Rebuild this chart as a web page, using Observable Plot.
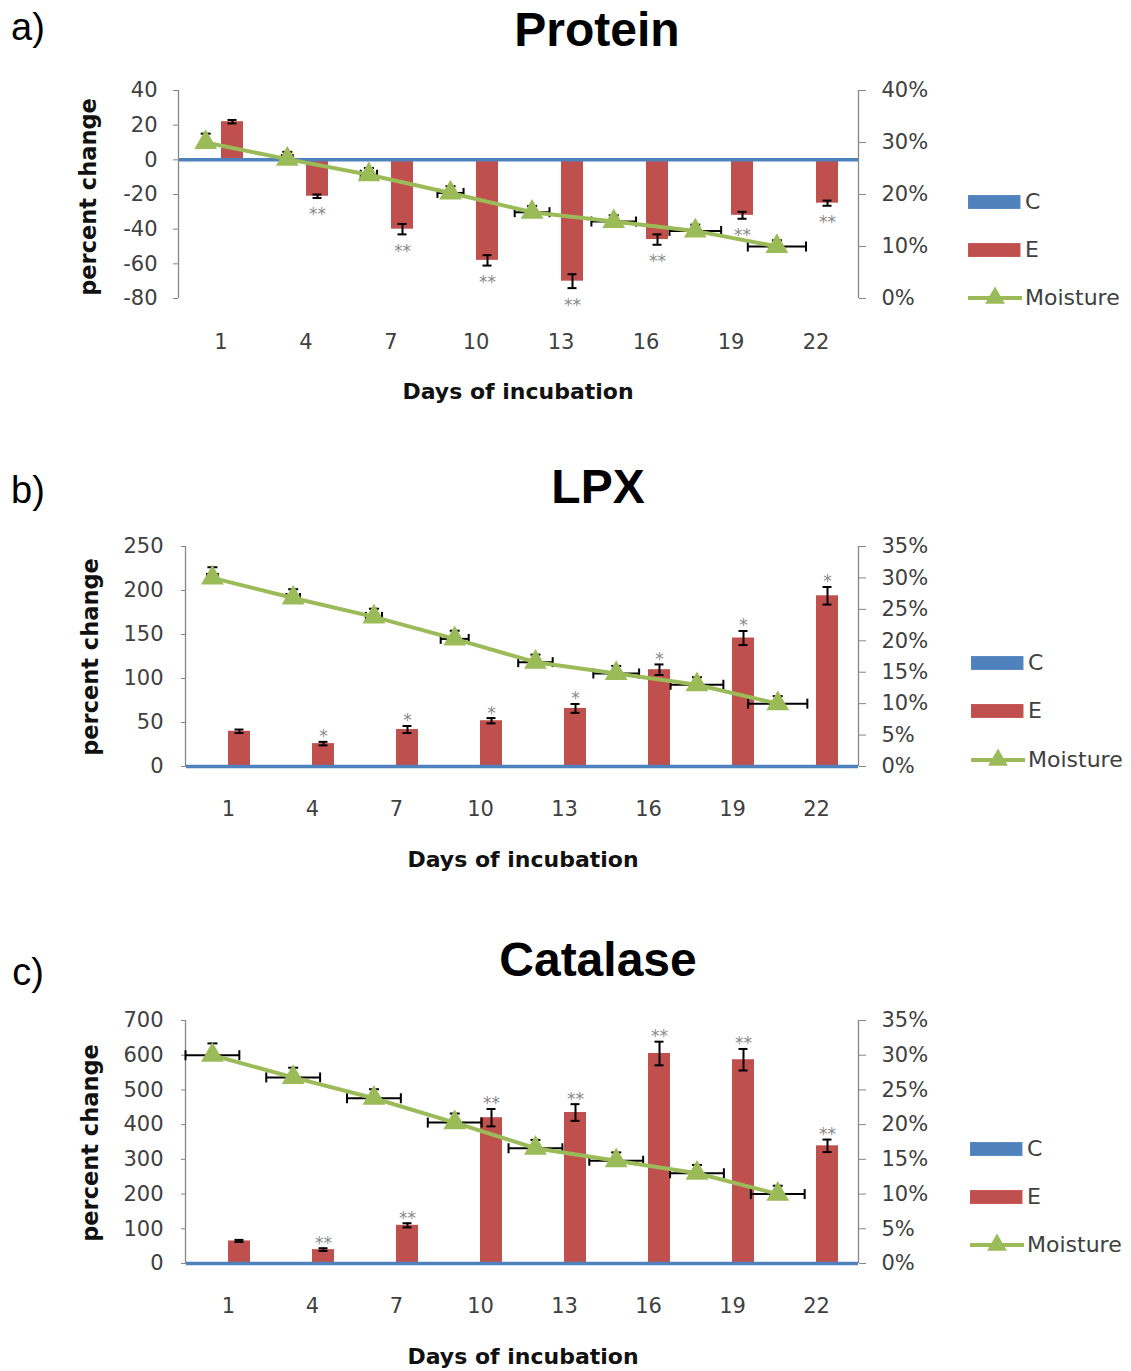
<!DOCTYPE html>
<html><head><meta charset="utf-8">
<script src="https://cdn.jsdelivr.net/npm/d3@7"></script>
<script src="https://cdn.jsdelivr.net/npm/@observablehq/plot@0.6"></script>
<style>
html,body{margin:0;padding:0;background:#fff;overflow:hidden;}
#page{position:relative;width:1131px;height:1371px;background:#fff;}
.abs{position:absolute;white-space:nowrap;line-height:1;}
.panel{position:absolute;left:0;width:1131px;}
.panel svg{position:absolute;left:0;top:0;}
</style></head><body><div id="page"></div>
<script>
// ---------- data ----------
const days = ["1","4","7","10","13","16","19","22"];
const dayNumbers = [1,4,7,10,13,16,19,22];
const seriesNames = ["C","E"];

const proteinC = [0,0,0,0,0,0,0,0];
const proteinE = [22,-21,-40,-58,-70,-46,-32,-25];
const proteinErr = [1,1,3,3,4,3,2,1.5];
const proteinSig = ["","**","**","**","**","**","**","**"];
const proteinTicks = [-80,-60,-40,-20,0,20,40];

const lpxC = [0,0,0,0,0,0,0,0];
const lpxE = [40,26,42,52,66,110,146,194];
const lpxErr = [2,2,4,3,5,6,8,10];
const lpxSig = ["","*","*","*","*","*","*","*"];
const lpxTicks = [0,50,100,150,200,250];

const catalaseC = [0,0,0,0,0,0,0,0];
const catalaseE = [65,40,110,420,435,605,587,339];
const catalaseErr = [3,4,6,25,24,34,31,18];
const catalaseSig = ["","**","**","**","**","**","**","**"];
const catalaseTicks = [0,100,200,300,400,500,600,700];

const moisture = [0.30,0.268,0.238,0.203,0.166,0.148,0.13,0.10];
const moistureErrY = [0.017,0.014,0.013,0.013,0.012,0.012,0.012,0.012];
const proteinMoistErrX = [0.12,0.2,0.3,0.48,0.64,0.82,0.95,1.07];
const lpxMoistErrX = [0.2,0.25,0.3,0.52,0.64,0.85,0.98,1.1];
const catalaseMoistErrX = [1,1,1,1,1,1,1,1];
const pctTicksProtein = [0,0.1,0.2,0.3,0.4];
const pctTicksOther = [0,0.05,0.1,0.15,0.2,0.25,0.3,0.35];

const legendLabels = ["C","E","Moisture"];

// ---------- style ----------
const W = 1131;
const BLUE = "#4F81BD", RED = "#C0504D", GREEN = "#9BBB59";
const GRAY = "#868686", TICK = "#404040", STAR = "#8a8a8a";
const FONT = "DejaVu Sans";

const panels = [
  {letter:"a)", title:"Protein", T:0, H:420, mt:90, mb:122, ml:178, mr:273, padL:16, padX:36,
   C:proteinC, E:proteinE, err:proteinErr, sig:proteinSig, ticks:proteinTicks, yDomain:[-80,40],
   pctTicks:pctTicksProtein, pctMax:0.4, errX:proteinMoistErrX,
   letterPos:[28,27], titlePos:[597,30], yLabPos:[88,197], xLabPos:[518,392],
   legX:968, legY:[202,250,298]},
  {letter:"b)", title:"LPX", T:460, H:420, mt:86, mb:114, ml:185, mr:273, padL:18, padX:35,
   C:lpxC, E:lpxE, err:lpxErr, sig:lpxSig, ticks:lpxTicks, yDomain:[0,250],
   pctTicks:pctTicksOther, pctMax:0.35, errX:lpxMoistErrX,
   letterPos:[28,490], titlePos:[598,487], yLabPos:[90,657], xLabPos:[523,860],
   legX:971, legY:[663,711,760]},
  {letter:"c)", title:"Catalase", T:940, H:431, mt:80, mb:108, ml:185, mr:273, padL:18, padX:35,
   C:catalaseC, E:catalaseE, err:catalaseErr, sig:catalaseSig, ticks:catalaseTicks, yDomain:[0,700],
   pctTicks:pctTicksOther, pctMax:0.35, errX:catalaseMoistErrX,
   letterPos:[28,972], titlePos:[598,960], yLabPos:[90,1143], xLabPos:[523,1357],
   legX:970, legY:[1149,1197,1245]}
];

const vcap = {draw(ctx, size){ const h = Math.sqrt(size/Math.PI); ctx.moveTo(0,-h); ctx.lineTo(0,h); }};
const hcap = {draw(ctx, size){ const h = Math.sqrt(size/Math.PI); ctx.moveTo(-h,0); ctx.lineTo(h,0); }};

const page = document.getElementById("page");

function addText(txt, x, y, css, rotate){
  const d = document.createElement("div");
  d.className = "abs";
  d.textContent = txt;
  d.style.left = x + "px";
  d.style.top = y + "px";
  d.style.transform = "translate(-50%,-50%)" + (rotate ? " rotate(-90deg)" : "");
  Object.assign(d.style, css);
  page.appendChild(d);
  return d;
}

function barPlot(p){
  const rows = days.flatMap((d,i)=>[
    {day:d, series:"C", value:p.C[i], err:0, sig:""},
    {day:d, series:"E", value:p.E[i], err:p.err[i], sig:p.sig[i]}
  ]);
  const eRows = rows.filter(r=>r.series==="E");
  const pos = eRows.filter(r=>r.value>=0 && r.sig);
  const neg = eRows.filter(r=>r.value<0 && r.sig);
  return Plot.plot({
    width: W, height: p.H,
    marginTop: p.mt, marginBottom: p.mb, marginLeft: p.ml, marginRight: p.mr,
    style: {background:"transparent", fontFamily: FONT, fontSize:"21px", overflow:"visible"},
    fx: {domain: days, padding: 0, label: null},
    x: {domain: seriesNames, paddingInner: 0, paddingOuter: 0.85, axis: null},
    y: {domain: p.yDomain},
    color: {domain: seriesNames, range: [BLUE, RED]},
    marks: [
      Plot.barY(rows, {fx:"day", x:"series", y:"value", fill:"series"}),
      Plot.ruleY([0], {stroke: BLUE, strokeWidth: 3.5}),
      Plot.ruleX(eRows, {fx:"day", x:"series", y1: r=>r.value-r.err, y2: r=>r.value+r.err, stroke:"black", strokeWidth:2}),
      Plot.tickY(eRows, {fx:"day", x:"series", y: r=>r.value-r.err, stroke:"black", strokeWidth:2, insetLeft:6.5, insetRight:6.5}),
      Plot.tickY(eRows, {fx:"day", x:"series", y: r=>r.value+r.err, stroke:"black", strokeWidth:2, insetLeft:6.5, insetRight:6.5}),
      Plot.text(pos, {fx:"day", x:"series", y: r=>r.value+r.err, text:"sig", dy:-5, fill: STAR, fontSize: 17}),
      Plot.text(neg, {fx:"day", x:"series", y: r=>r.value-r.err, text:"sig", dy:17, fill: STAR, fontSize: 17}),
      Plot.axisY({ticks: p.ticks, tickFormat: d => String(d), tickSize:5, tickPadding:p.padL, stroke: GRAY, fill: TICK, label: null, fontSize: 21}),
      Plot.axisFx({anchor:"bottom", tickSize:0, tickPadding:p.padX, label: null, fill: TICK, fontSize: 21})
    ]
  });
}

function moisturePlot(p){
  const rows = dayNumbers.map((d,i)=>({day:d, m:moisture[i], ey:moistureErrY[i], ex:p.errX[i]}));
  return Plot.plot({
    width: W, height: p.H,
    marginTop: p.mt, marginBottom: p.mb, marginLeft: p.ml, marginRight: p.mr,
    style: {background:"transparent", fontFamily: FONT, fontSize:"21px", overflow:"visible"},
    x: {domain:[0,25], axis: null},
    y: {domain:[0, p.pctMax]},
    marks: [
      Plot.ruleX([0,25], {stroke: GRAY, strokeWidth: 1.3}),
      Plot.axisY({anchor:"right", ticks: p.pctTicks, tickFormat: d3.format(".0%"), tickSize:7, tickPadding:16, stroke: GRAY, fill: TICK, label: null, fontSize: 21}),
      Plot.ruleY(rows, {y:"m", x1: r=>r.day-r.ex, x2: r=>r.day+r.ex, stroke:"black", strokeWidth:2}),
      Plot.dot(rows, {x: r=>r.day-r.ex, y:"m", symbol: vcap, r:5, stroke:"black", strokeWidth:2, fill:"none"}),
      Plot.dot(rows, {x: r=>r.day+r.ex, y:"m", symbol: vcap, r:5, stroke:"black", strokeWidth:2, fill:"none"}),
      Plot.ruleX(rows, {x:"day", y1: "m", y2: r=>r.m+r.ey, stroke:"black", strokeWidth:2}),
      Plot.dot(rows, {x:"day", y: r=>r.m+r.ey, symbol: hcap, r:5, stroke:"black", strokeWidth:2, fill:"none"}),
      Plot.line(rows, {x:"day", y:"m", stroke: GREEN, strokeWidth: 4}),
      Plot.dot(rows, {x:"day", y:"m", symbol:"triangle", r:7.5, fill: GREEN, stroke: GREEN})
    ]
  });
}

function legend(p){
  legendLabels.forEach((lab,i)=>{
    const y = p.legY[i];
    const sw = document.createElementNS("http://www.w3.org/2000/svg","svg");
    sw.setAttribute("width", 56); sw.setAttribute("height", 24);
    sw.style.position = "absolute"; sw.style.left = p.legX + "px"; sw.style.top = (y-12) + "px";
    if (i < 2) {
      sw.innerHTML = `<rect x="0" y="5.5" width="52" height="13" fill="${i===0?BLUE:RED}" stroke="${i===0?'#5b8cc4':'#c85a57'}" stroke-width="1"/>`;
    } else {
      sw.innerHTML = `<line x1="0" y1="12" x2="54" y2="12" stroke="${GREEN}" stroke-width="4"/>` +
        `<path d="${d3.symbol(d3.symbolTriangle, 170)()}" transform="translate(27,12)" fill="${GREEN}"/>`;
    }
    page.appendChild(sw);
    const t = document.createElement("div");
    t.className = "abs";
    t.textContent = lab;
    Object.assign(t.style, {left:(p.legX+57)+"px", top:y+"px", transform:"translateY(-50%)",
      fontFamily: FONT, fontSize:"22px", color: TICK});
    page.appendChild(t);
  });
}

panels.forEach(p=>{
  const div = document.createElement("div");
  div.className = "panel";
  div.style.top = p.T + "px";
  div.style.height = p.H + "px";
  div.appendChild(barPlot(p));
  div.appendChild(moisturePlot(p));
  page.appendChild(div);
  addText(p.letter, p.letterPos[0], p.letterPos[1], {fontFamily:"Liberation Sans", fontSize:"38px", color:"#000"});
  addText(p.title, p.titlePos[0], p.titlePos[1], {fontFamily:"Liberation Sans", fontWeight:"bold", fontSize:"48px", color:"#000"});
  addText("percent change", p.yLabPos[0], p.yLabPos[1], {fontFamily: FONT, fontWeight:"bold", fontSize:"22.5px", color:"#111"}, true);
  addText("Days of incubation", p.xLabPos[0], p.xLabPos[1], {fontFamily: FONT, fontWeight:"bold", fontSize:"22px", color:"#111"});
  legend(p);
});
</script></body></html>
